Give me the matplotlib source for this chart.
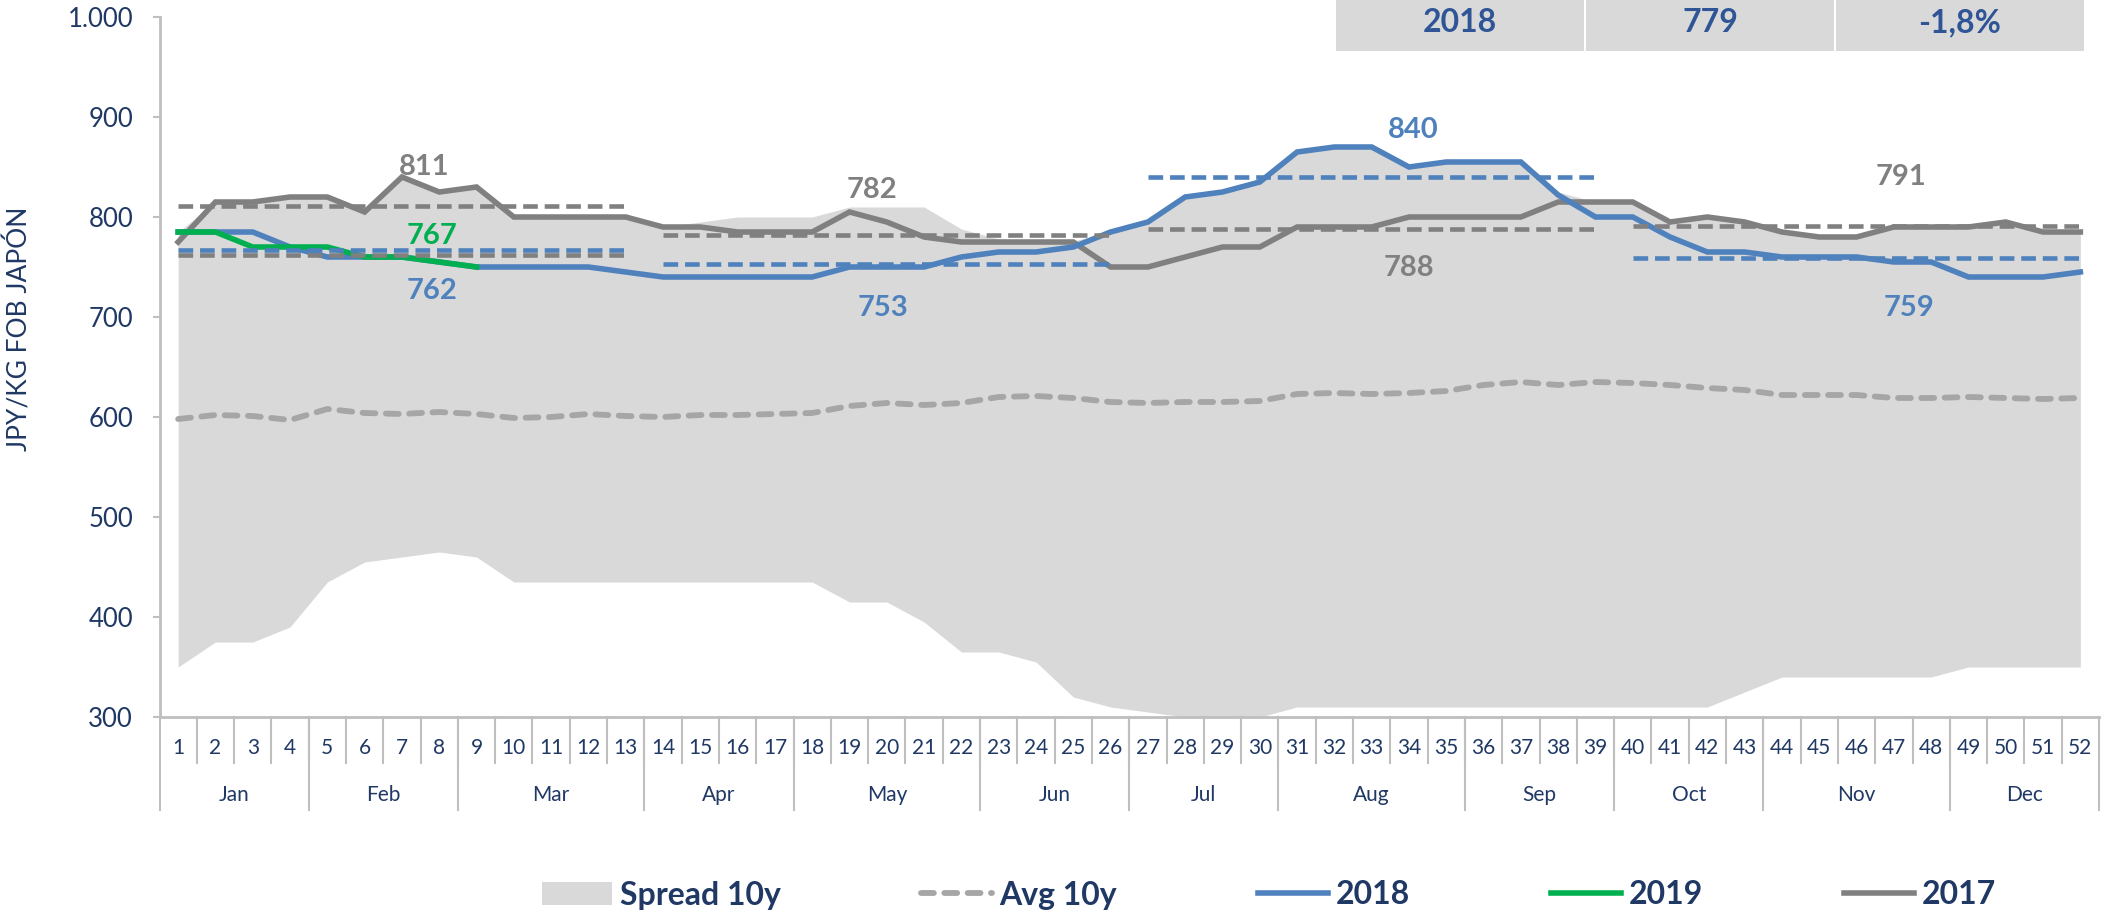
import numpy as np
import matplotlib.pyplot as plt
from matplotlib.patches import Patch, Rectangle
from matplotlib.lines import Line2D
import matplotlib.transforms as mtransforms

plt.rcParams['font.family'] = ['Lato', 'DejaVu Sans']

weeks = np.arange(1, 53)
months = ['Jan', 'Feb', 'Mar', 'Apr', 'May', 'Jun', 'Jul', 'Aug', 'Sep', 'Oct', 'Nov', 'Dec']
month_weeks = [4, 4, 5, 4, 5, 4, 4, 5, 4, 4, 5, 4]

spread_min = [350, 375, 375, 390, 435, 455, 460, 465, 460, 435, 435, 435, 435,
              435, 435, 435, 435, 435, 415, 415, 395, 365, 365, 355, 320, 310,
              305, 300, 300, 300, 310, 310, 310, 310, 310, 310, 310, 310, 310,
              310, 310, 310, 325, 340, 340, 340, 340, 340, 350, 350, 350, 350]
spread_max = [785, 815, 815, 820, 820, 805, 840, 825, 830, 800, 800, 800, 800,
              790, 795, 800, 800, 800, 810, 810, 810, 788, 778, 776, 776, 785,
              795, 820, 825, 835, 865, 870, 870, 850, 855, 855, 855, 825, 815,
              815, 795, 800, 795, 785, 780, 780, 790, 790, 790, 795, 785, 785]
avg_10y = [598, 602, 601, 597, 608, 604, 603, 605, 603, 599, 600, 603, 601,
           600, 602, 602, 603, 604, 611, 614, 612, 614, 620, 621, 619, 615,
           614, 615, 615, 616, 623, 624, 623, 624, 626, 632, 635, 632, 635,
           634, 632, 629, 627, 622, 622, 622, 619, 619, 620, 619, 618, 619]
y2017 = [775, 815, 815, 820, 820, 805, 840, 825, 830, 800, 800, 800, 800,
         790, 790, 785, 785, 785, 805, 795, 780, 775, 775, 775, 775, 750,
         750, 760, 770, 770, 790, 790, 790, 800, 800, 800, 800, 815, 815,
         815, 795, 800, 795, 785, 780, 780, 790, 790, 790, 795, 785, 785]
y2018 = [785, 785, 785, 770, 760, 760, 760, 755, 750, 750, 750, 750, 745,
         740, 740, 740, 740, 740, 750, 750, 750, 760, 765, 765, 770, 785,
         795, 820, 825, 835, 865, 870, 870, 850, 855, 855, 855, 822, 800,
         800, 780, 765, 765, 760, 760, 760, 755, 755, 740, 740, 740, 745]
y2019 = [785, 785, 770, 770, 770, 760, 760, 755, 750]

# quarterly averages (start week, end week, value, colour key)
q_avgs = [(1, 13, 811, 'gray'), (1, 13, 767, 'blue'), (1, 13, 762, 'gray'),
          (14, 26, 782, 'gray'), (14, 26, 753, 'blue'),
          (27, 39, 840, 'blue'), (27, 39, 788, 'gray'),
          (40, 52, 791, 'gray'), (40, 52, 759, 'blue')]

table_cells = ['2018', '779', '-1,8%']

c_gray = '#808080'
c_blue = '#4F81BD'
c_green = '#00B050'
c_avg = '#A6A6A6'
c_spread = '#D9D9D9'
c_navy = '#1F3864'
c_axis = '#BFBFBF'
colors = {'gray': c_gray, 'blue': c_blue}

fig = plt.figure(figsize=(21.06, 9.14), dpi=100)
ax = fig.add_axes([159.5 / 2106, 197 / 914, (2099 - 159.5) / 2106, 700 / 914])

ax.fill_between(weeks, spread_min, spread_max, color=c_spread, lw=0, zorder=1)
avg_ls = (0, (2.2, 1.8))
ax.plot(weeks, avg_10y, color=c_avg, lw=4.2, ls=avg_ls,
        dash_capstyle='round', zorder=2)

ax.plot(weeks, y2017, color=c_gray, lw=4, zorder=3, solid_joinstyle='miter')
ax.plot(weeks, y2018, color=c_blue, lw=4, zorder=3, solid_joinstyle='miter')
ax.plot(weeks[:len(y2019)], y2019, color=c_green, lw=4, zorder=4,
        solid_joinstyle='miter')

dash = (0, (3.2, 1.5))
for s, e, v, c in q_avgs:
    ax.plot([s, e], [v, v], color=colors[c], lw=3.3, ls=dash, zorder=5)

# value labels
lab = dict(fontsize=21, fontweight='bold', ha='center', va='center', zorder=6)
ax.text(7.6, 850, '811', color=c_gray, **lab)
ax.text(7.8, 781, '767', color=c_green, **lab)
ax.text(7.8, 726, '762', color=c_blue, **lab)
ax.text(19.6, 827, '782', color=c_gray, **lab)
ax.text(19.9, 709, '753', color=c_blue, **lab)
ax.text(34.1, 887, '840', color=c_blue, **lab)
ax.text(34.0, 749, '788', color=c_gray, **lab)
ax.text(47.2, 840, '791', color=c_gray, **lab)
ax.text(47.4, 709, '759', color=c_blue, **lab)

ax.set_xlim(0.5, 52.5)
ax.set_ylim(300, 1000)
ax.set_yticks(range(300, 1001, 100))
ax.set_yticklabels([f'{v:,}'.replace(',', '.') for v in range(300, 1001, 100)],
                   fontsize=18.5, color=c_navy)
ax.tick_params(axis='y', length=5, width=1.5, color=c_axis, pad=14)
ax.set_xticks([])
for sp in ['top', 'right']:
    ax.spines[sp].set_visible(False)
for sp in ['left', 'bottom']:
    ax.spines[sp].set_color(c_axis)
    ax.spines[sp].set_linewidth(2)

ax.set_ylabel('JPY/KG FOB JAPÓN', fontsize=19, color=c_navy)
ax.yaxis.set_label_coords(-0.0655, 0.554)

# two-level category axis
tr = mtransforms.blended_transform_factory(ax.transData, ax.transAxes)
for w in weeks:
    ax.text(w, -31 / 700, str(w), transform=tr, ha='center', va='center',
            fontsize=15, color=c_navy)
for b in np.arange(1.5, 52, 1):
    ax.add_line(Line2D([b, b], [0, -46 / 700], transform=tr, color=c_axis,
                       lw=1.5, clip_on=False))
edges = np.concatenate([[0.5], 0.5 + np.cumsum(month_weeks)])
for b in edges:
    ax.add_line(Line2D([b, b], [0, -93 / 700], transform=tr, color=c_axis,
                       lw=1.5, clip_on=False))
for m, a, b in zip(months, edges[:-1], edges[1:]):
    ax.text((a + b) / 2, -78 / 700, m, transform=tr, ha='center', va='center',
            fontsize=15, color=c_navy)

# summary table top right
box_x = [1336, 1586, 1836]
for x0, txt in zip(box_x, table_cells):
    fig.patches.append(Rectangle((x0 / 2106, 1 - 51 / 914), 248 / 2106, 51 / 914,
                                 transform=fig.transFigure, facecolor=c_spread,
                                 edgecolor='none', zorder=0))
    fig.text((x0 + 124) / 2106, 1 - 23 / 914, txt, ha='center', va='center',
             fontsize=23, fontweight='bold', color='#2F5597')

handles = [Patch(facecolor=c_spread, edgecolor='none'),
           Line2D([], [], color=c_avg, lw=4.2, ls=avg_ls, dash_capstyle='round'),
           Line2D([], [], color=c_blue, lw=4),
           Line2D([], [], color=c_green, lw=4),
           Line2D([], [], color=c_gray, lw=4)]
labels = ['Spread 10y', 'Avg 10y', '2018', '2019', '2017']
fig.legend(handles, labels, loc='center', bbox_to_anchor=(1269 / 2106, 1 - 895 / 914),
           ncol=5, frameon=False, prop={'size': 23, 'weight': 'bold'},
           labelcolor=c_navy, columnspacing=4.4, handlelength=2.2,
           handletextpad=0.25, handleheight=0.7)

fig.savefig('out.png', dpi=100)
